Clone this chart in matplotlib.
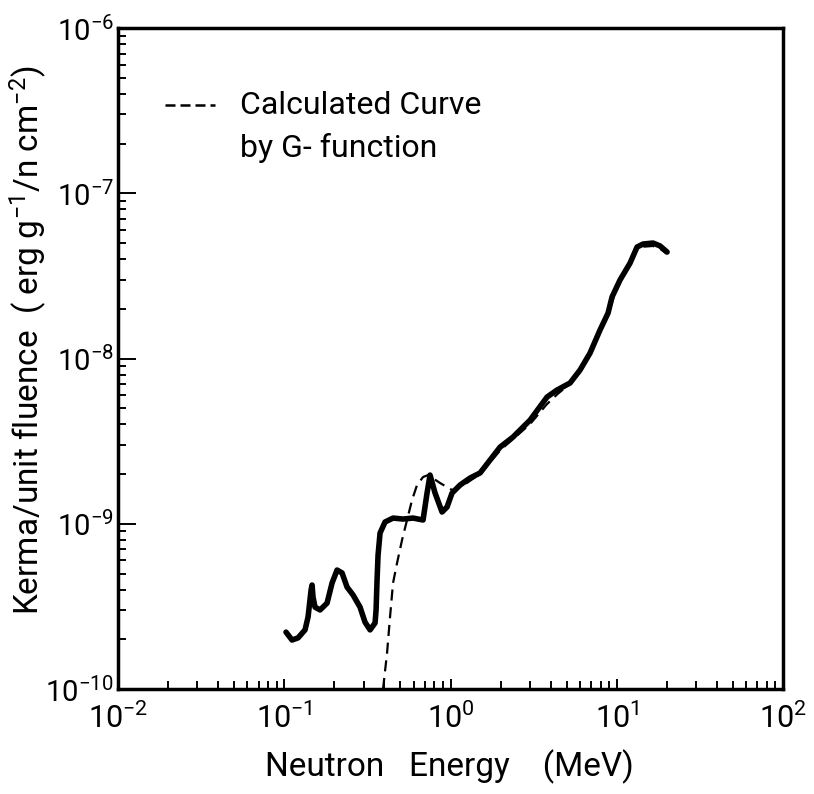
import numpy as np
import matplotlib
matplotlib.use("Agg")
import matplotlib.pyplot as plt
from matplotlib.ticker import LogLocator, NullFormatter

plt.rcParams['font.family'] = ['Roboto', 'DejaVu Sans']
plt.rcParams['mathtext.default'] = 'regular'

# measured kerma per unit fluence (solid curve)
energy_meas = [0.1024, 0.1113, 0.1210, 0.1333, 0.1390, 0.1449, 0.1469, 0.1489, 0.1531,
               0.1641, 0.1808, 0.1938, 0.2077, 0.2226, 0.2385, 0.2591, 0.2855, 0.3059,
               0.3280, 0.3515, 0.3565, 0.3614, 0.3664, 0.3767, 0.4036, 0.4509, 0.5179,
               0.5949, 0.6833, 0.7222, 0.7528, 0.8069, 0.8890, 0.9526, 1.021, 1.141,
               1.310, 1.505, 1.985, 2.376, 3.008, 3.806, 4.372, 5.233, 6.010, 6.904,
               7.930, 8.859, 9.364, 10.46, 12.01, 13.24, 14.38, 16.52, 18.20, 20.06]
kerma_meas = [2.21e-10, 1.98e-10, 2.04e-10, 2.28e-10, 2.73e-10, 3.97e-10, 4.26e-10,
              3.60e-10, 3.13e-10, 3.01e-10, 3.31e-10, 4.38e-10, 5.25e-10, 5.04e-10,
              4.14e-10, 3.71e-10, 3.13e-10, 2.54e-10, 2.28e-10, 2.51e-10, 3.01e-10,
              4.57e-10, 6.47e-10, 8.79e-10, 1.025e-9, 1.083e-9, 1.068e-9, 1.083e-9,
              1.054e-9, 1.535e-9, 1.972e-9, 1.535e-9, 1.178e-9, 1.263e-9, 1.535e-9,
              1.716e-9, 1.892e-9, 2.03e-9, 2.91e-9, 3.35e-9, 4.24e-9, 5.85e-9, 6.45e-9,
              7.11e-9, 8.52e-9, 1.08e-8, 1.49e-8, 1.885e-8, 2.36e-8, 2.99e-8, 3.78e-8,
              4.73e-8, 4.93e-8, 5.00e-8, 4.80e-8, 4.41e-8]

# curve calculated by G-function (dashed)
energy_calc = [0.3926, 0.415, 0.4325, 0.4509, 0.4767, 0.5107, 0.5473, 0.5866, 0.6286,
               0.6833, 0.7322, 0.8646, 1.021, 1.177, 1.5, 2.0, 3.0, 3.8, 4.4, 5.2, 6.0,
               7.9, 10.5, 12.0, 13.2, 14.4, 16.5, 18.2, 20.0]
kerma_calc = [1.0e-10, 1.65e-10, 2.73e-10, 4.38e-10, 5.79e-10, 7.97e-10, 1.054e-9,
              1.392e-9, 1.716e-9, 1.918e-9, 1.972e-9, 1.765e-9, 1.60e-9, 1.69e-9, 2.0e-9,
              2.8e-9, 4.0e-9, 5.3e-9, 6.1e-9, 7.0e-9, 8.4e-9, 1.45e-8, 2.95e-8, 3.75e-8,
              4.55e-8, 4.75e-8, 4.8e-8, 4.62e-8, 4.3e-8]

fig = plt.figure(figsize=(8.14, 7.94), dpi=100)
ax = fig.add_axes([0.145, 0.1322, 0.817, 0.8325])

ax.plot(energy_meas, kerma_meas, color='black', lw=4.0, solid_capstyle='round',
        solid_joinstyle='round')
ax.plot(energy_calc, kerma_calc, color='black', lw=1.6, dashes=(5, 3))

ax.set_xscale('log')
ax.set_yscale('log')
ax.set_xlim(1e-2, 1e2)
ax.set_ylim(1e-10, 1e-6)

ax.xaxis.set_major_locator(LogLocator(base=10, numticks=10))
ax.yaxis.set_major_locator(LogLocator(base=10, numticks=10))
ax.xaxis.set_minor_locator(LogLocator(base=10, subs=np.arange(2, 10), numticks=10))
ax.yaxis.set_minor_locator(LogLocator(base=10, subs=np.arange(2, 10), numticks=10))
ax.xaxis.set_minor_formatter(NullFormatter())
ax.yaxis.set_minor_formatter(NullFormatter())

for s in ax.spines.values():
    s.set_linewidth(2.5)
ax.tick_params(axis='both', which='both', direction='in', top=False, right=False,
               width=1.4)
ax.tick_params(axis='x', which='major', length=7, pad=10, labelsize=22)
ax.tick_params(axis='y', which='major', length=13, pad=3, labelsize=21)
ax.tick_params(axis='both', which='minor', length=6)

ax.set_xlabel('Neutron   Energy    (MeV)', fontsize=24, va='center')
ax.xaxis.set_label_coords(0.498, -0.118)
ax.set_ylabel('Kerma/unit fluence  ( erg g$^{-1}$/n cm$^{-2}$)', fontsize=24,
              va='center')
ax.yaxis.set_label_coords(-0.135, 0.528)

# legend drawn by hand so the sample sits on the first text line
ax.plot([0.0707, 0.146], [0.8835, 0.8835], transform=ax.transAxes, color='black',
        lw=1.8, dashes=(4, 2))
ax.text(0.1835, 0.8835, 'Calculated Curve', transform=ax.transAxes, fontsize=23,
        va='center', ha='left')
ax.text(0.1835, 0.8185, 'by G- function', transform=ax.transAxes, fontsize=23,
        va='center', ha='left')

fig.savefig('out.png', dpi=100)
